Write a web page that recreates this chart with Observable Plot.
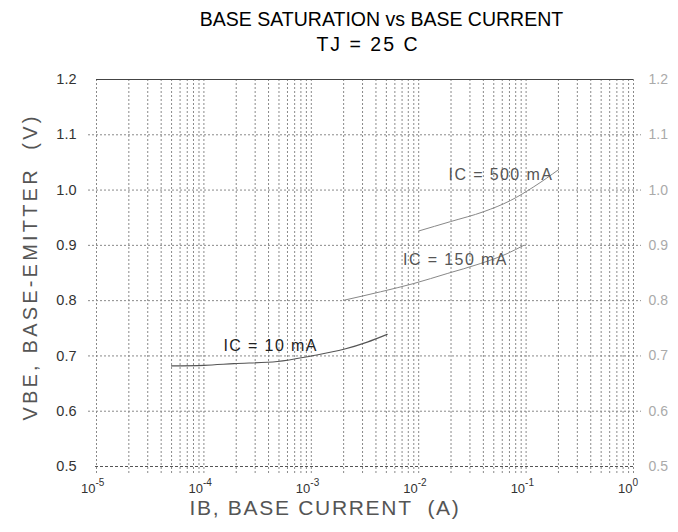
<!DOCTYPE html>
<html>
<head>
<meta charset="utf-8">
<script src="https://cdn.jsdelivr.net/npm/d3@7"></script>
<script src="https://cdn.jsdelivr.net/npm/@observablehq/plot@0.6"></script>
<style>
  html, body { margin: 0; padding: 0; background: #fff; }
  body { width: 678px; font-family: "Liberation Sans", Arial, Helvetica, sans-serif; }
  #title { height: 62px; box-sizing: border-box; padding-top: 7px; color: #000; font-size: 19.5px; line-height: 25px; }
  #title div { text-align: center; box-sizing: border-box; width: 678px; white-space: pre; }
  #t1 { padding-left: 85px; }
  #t2 { padding-left: 58px; letter-spacing: 2px; }
  svg { display: block; white-space: pre; }
</style>
</head>
<body>
<div id="title"><div id="t1">BASE SATURATION vs BASE CURRENT</div><div id="t2">TJ = 25 C</div></div>
<div id="chart"></div>
<script>
// ---- data ----
const ib10  = [4.99e-5, 1.0e-4, 1.91e-4, 4.83e-4, 1.0e-3, 2.01e-3, 3.32e-3, 5.09e-3];
const vbe10 = [0.682, 0.683, 0.686, 0.690, 0.700, 0.712, 0.725, 0.739];
const ib150  = [2.04e-3, 4.41e-3, 9.0e-3, 1.84e-2, 3.75e-2, 6.65e-2, 9.5e-2];
const vbe150 = [0.801, 0.816, 0.831, 0.849, 0.867, 0.885, 0.900];
const ib500  = [1.0e-2, 1.98e-2, 4.04e-2, 7.14e-2, 0.118, 0.201];
const vbe500 = [0.926, 0.943, 0.961, 0.981, 1.006, 1.037];

const curveNames = ["IC = 10 mA", "IC = 150 mA", "IC = 500 mA"];
const labelIb  = [4.18e-4, 2.2e-2, 5.83e-2];
const labelVbe = [0.719, 0.873, 1.027];

const xTicks = [1e-5, 1e-4, 1e-3, 1e-2, 1e-1, 1];
const xTickExp = ["-5", "-4", "-3", "-2", "-1", "0"];
const yTicks = [0.5, 0.6, 0.7, 0.8, 0.9, 1.0, 1.1, 1.2];
const yTickLabels = ["0.5", "0.6", "0.7", "0.8", "0.9", "1.0", "1.1", "1.2"];
const xTitle = "IB, BASE CURRENT  (A)";
const yTitle = "VBE, BASE-EMITTER  (V)";

// ---- tables ----
const toRows = (xs, ys, name) => xs.map((x, i) => ({ib: x, vbe: ys[i], name}));
const rows10 = toRows(ib10, vbe10, curveNames[0]);
const rows150 = toRows(ib150, vbe150, curveNames[1]);
const rows500 = toRows(ib500, vbe500, curveNames[2]);
const labels = curveNames.map((n, i) => ({name: n, ib: labelIb[i], vbe: labelVbe[i]}));
const xGrid = [];
for (let d = 0; d < 5; d++) for (let m = 1; m <= 9; m++) xGrid.push(m * xTicks[d]);
xGrid.push(1);

const chart = Plot.plot({
  width: 678,
  height: 470,
  marginTop: 17,
  marginBottom: 66,
  marginLeft: 96,
  marginRight: 45,
  style: {fontFamily: '"Liberation Sans", Arial, Helvetica, sans-serif', background: "#fff"},
  x: {type: "log", domain: [1e-5, 1], axis: null},
  y: {domain: [0.5, 1.2], axis: null},
  marks: [
    Plot.ruleX(xGrid, {x: d => d, stroke: "#8a8a8a", strokeDasharray: "2,2", insetBottom: -7}),
    Plot.ruleY(yTicks.slice(1, -1), {y: d => d, stroke: "#8a8a8a", strokeDasharray: "2,2", insetLeft: -8, insetRight: -8}),
    Plot.ruleY([0.5], {y: d => d, stroke: "#555", strokeDasharray: "3,2", insetLeft: -1, insetRight: -1}),
    Plot.ruleY([1.2], {y: d => d, stroke: "#444", strokeWidth: 1.2}),
    Plot.line(rows10, {x: "ib", y: "vbe", stroke: "#555", strokeWidth: 1.1, curve: "monotone-x"}),
    Plot.line(rows150, {x: "ib", y: "vbe", stroke: "#888", strokeWidth: 1, curve: "monotone-x"}),
    Plot.line(rows500, {x: "ib", y: "vbe", stroke: "#888", strokeWidth: 1, curve: "monotone-x"}),
    Plot.text(labels, {x: "ib", y: "vbe", text: "name", fontSize: 16, fill: (d, i) => i === 0 ? "#222" : "#555"}),
    Plot.text(yTicks, {x: 1e-5, y: d => d, text: (d, i) => yTickLabels[i], textAnchor: "end", dx: -20, fontSize: 14.5, fill: "#333"}),
    Plot.text(yTicks, {x: 1, y: d => d, text: (d, i) => yTickLabels[i], textAnchor: "start", dx: 15, fontSize: 14, fill: "#aaa"}),
    Plot.text(xTicks, {x: d => d, frameAnchor: "bottom", text: () => "10", textAnchor: "end", dx: -1, dy: 26, fontSize: 13, fill: "#333"}),
    Plot.text(xTicks, {x: d => d, frameAnchor: "bottom", text: (d, i) => xTickExp[i], textAnchor: "start", dx: -1, dy: 19, fontSize: 10, fill: "#333"}),
    Plot.text([xTitle], {frameAnchor: "bottom", text: d => d, textAnchor: "middle", dx: -40, dy: 48, fontSize: 21, fill: "#555"}),
    Plot.text([yTitle], {frameAnchor: "left", text: d => d, textAnchor: "middle", rotate: -90, dx: -66, dy: -6, fontSize: 20, fill: "#555"})
  ]
});
document.getElementById("chart").appendChild(chart);
const spacing = new Map([[xTitle, "1.7px"], [yTitle, "3.2px"], ...curveNames.map(n => [n, "1.4px"])]);
d3.select(chart).selectAll("text").each(function () {
  const s = spacing.get(this.textContent);
  if (s) this.style.letterSpacing = s;
});
</script>
</body>
</html>
